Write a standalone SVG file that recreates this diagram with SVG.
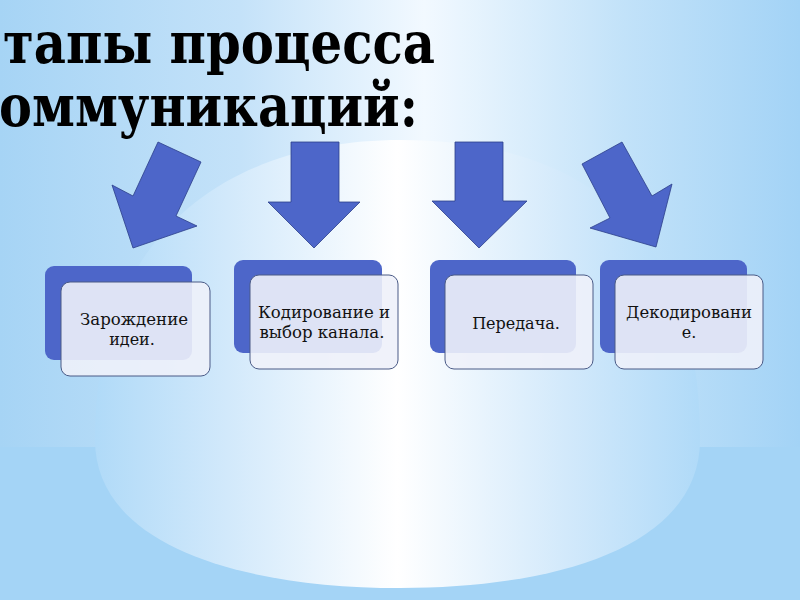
<svg xmlns="http://www.w3.org/2000/svg" width="800" height="600" viewBox="0 0 800 600">
<defs>
<linearGradient id="band" x1="0" y1="0" x2="1" y2="0">
<stop offset="0" stop-color="#a6d4f5"/>
<stop offset="0.3" stop-color="#c4e2f9"/>
<stop offset="0.53" stop-color="#f2f9ff"/>
<stop offset="0.78" stop-color="#c2e2f9"/>
<stop offset="1" stop-color="#a3d3f6"/>
</linearGradient>
<linearGradient id="glow" x1="0" y1="0" x2="1" y2="0">
<stop offset="0" stop-color="#b0daf8"/>
<stop offset="0.22" stop-color="#d2e9fb"/>
<stop offset="0.5" stop-color="#ffffff"/>
<stop offset="0.78" stop-color="#d2e9fb"/>
<stop offset="1" stop-color="#b0daf8"/>
</linearGradient>
<style>
.arrow{fill:#4d66c9;stroke:#2c3f8a;stroke-width:0.8;stroke-linejoin:miter}
.back{fill:#4d66c9}
.front{fill:#eef1fa;fill-opacity:0.9;stroke:#4a5a86;stroke-width:1}
.lbl{font-family:"DejaVu Serif","Liberation Serif",serif;font-size:16px;fill:#111;text-anchor:middle}
.title{font-family:"DejaVu Serif","Liberation Serif",serif;font-weight:bold;font-size:58px;fill:#000}
</style>
</defs>
<rect x="0" y="0" width="800" height="600" fill="#a4d4f6"/>
<rect x="0" y="0" width="800" height="447" fill="url(#band)"/>
<path d="M95,440 C95,215 250,140 400,140 C560,140 700,208 700,440 C700,545 560,588 400,588 C240,588 95,545 95,440 Z" fill="url(#glow)"/>
<g id="title">
<text class="title" x="3" y="63" textLength="432" lengthAdjust="spacingAndGlyphs">тапы процесса</text>
<text class="title" x="-1" y="126" textLength="419" lengthAdjust="spacingAndGlyphs">оммуникаций:</text>
</g>
<g id="connectors">
<polygon class="arrow" points="158,142 201,162 176,216 197,226 133,248 112,185 133,196"/>
<polygon class="arrow" points="291,142 339,142 339,202 360,202 314,248 268,202 291,202"/>
<polygon class="arrow" points="455,142 503,142 503,201 527,201 479,248 432,201 455,201"/>
<polygon class="arrow" points="622,142 652,196 672,184 656,247 590,228 610,218 582,164"/>
</g>
<g id="node1">
<rect class="back" x="45" y="266" width="147" height="94" rx="9"/>
<rect class="front" x="61" y="282" width="149" height="94" rx="9"/>
<text class="lbl" x="134" y="325" textLength="108" lengthAdjust="spacingAndGlyphs">Зарождение</text>
<text class="lbl" x="132" y="345">идеи.</text>
</g>
<g id="node2">
<rect class="back" x="234" y="260" width="148" height="93" rx="9"/>
<rect class="front" x="250" y="275" width="148" height="94" rx="9"/>
<text class="lbl" x="324" y="318" textLength="132" lengthAdjust="spacingAndGlyphs">Кодирование и</text>
<text class="lbl" x="322" y="338" textLength="125" lengthAdjust="spacingAndGlyphs">выбор канала.</text>
</g>
<g id="node3">
<rect class="back" x="430" y="260" width="146" height="93" rx="9"/>
<rect class="front" x="445" y="275" width="148" height="94" rx="9"/>
<text class="lbl" x="516" y="329">Передача.</text>
</g>
<g id="node4">
<rect class="back" x="600" y="260" width="147" height="93" rx="9"/>
<rect class="front" x="615" y="275" width="148" height="94" rx="9"/>
<text class="lbl" x="689" y="318" textLength="126" lengthAdjust="spacingAndGlyphs">Декодировани</text>
<text class="lbl" x="689" y="338">е.</text>
</g>
</svg>
